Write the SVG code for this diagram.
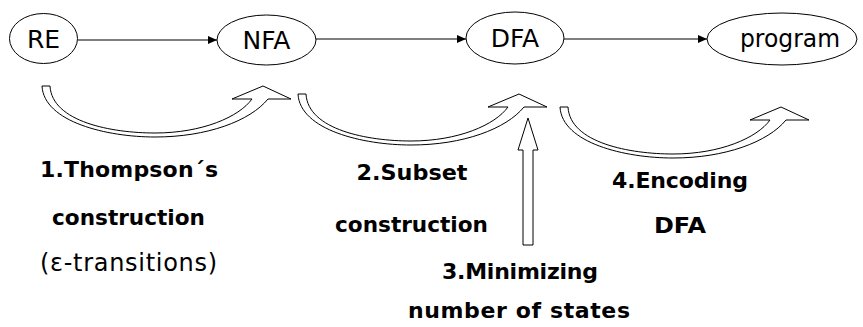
<svg xmlns="http://www.w3.org/2000/svg" xmlns:xlink="http://www.w3.org/1999/xlink" width="863" height="327" viewBox="0 0 863 327">
<style>
.node ellipse{fill:#fff;stroke:#000;stroke-width:1}
.node text{font-family:"DejaVu Sans","Liberation Sans",sans-serif;font-size:25px;fill:#000;text-anchor:middle}
.edge{stroke:#000;stroke-width:1.2;fill:none;marker-end:url(#ah)}
.block{fill:#fff;stroke:#000;stroke-width:1}
.lbl{font-family:"DejaVu Sans","Liberation Sans",sans-serif;font-size:22px;font-weight:bold;fill:#000;text-anchor:middle}
.lbln{font-family:"DejaVu Sans","Liberation Sans",sans-serif;font-size:24px;fill:#000;text-anchor:middle}
</style>
<defs>
<marker id="ah" markerWidth="10" markerHeight="8" refX="9" refY="4" orient="auto" markerUnits="userSpaceOnUse">
<path d="M0,0 L9,4 L0,8 Z" fill="#000"/>
</marker>
<path id="curved" d="M0,0 C2,36 65,51 113,51 C165,51 208,35 226,13 L249,13 L221,0 L190,13 L210,13 C197,31 160,47 113,47 C70,47 10,36 8,0 Z"/>
</defs>
<g id="connectors">
<line class="edge" x1="78" y1="40" x2="217" y2="40"/>
<line class="edge" x1="316" y1="39" x2="466" y2="39"/>
<line class="edge" x1="564" y1="39" x2="707" y2="39"/>
</g>
<g id="node-RE" class="node"><ellipse cx="43.5" cy="38.5" rx="34" ry="25"/><text x="43.5" y="47.5">RE</text></g>
<g id="node-NFA" class="node"><ellipse cx="266.5" cy="40" rx="49.5" ry="25"/><text x="266.5" y="48.5">NFA</text></g>
<g id="node-DFA" class="node"><ellipse cx="515" cy="38" rx="49" ry="26"/><text x="515" y="47">DFA</text></g>
<g id="node-program" class="node"><ellipse cx="782" cy="39" rx="75" ry="26"/><text x="790" y="47" textLength="100" lengthAdjust="spacingAndGlyphs">program</text></g>
<g id="steps">
<use xlink:href="#curved" class="block" transform="translate(42,86)"/>
<use xlink:href="#curved" class="block" transform="translate(298,94)"/>
<use xlink:href="#curved" class="block" transform="translate(560,107)"/>
<polygon class="block" points="523,245 523,150 518,150 528,118 538,150 533,150 533,245"/>
</g>
<g id="labels">
<text class="lbl" x="129" y="177" textLength="178" lengthAdjust="spacing">1.Thompson´s</text>
<text class="lbl" x="128.5" y="225" textLength="153" lengthAdjust="spacingAndGlyphs">construction</text>
<text class="lbln" x="128.5" y="271" textLength="177" lengthAdjust="spacing">(ε-transitions)</text>
<text class="lbl" x="412" y="180" textLength="111" lengthAdjust="spacingAndGlyphs">2.Subset</text>
<text class="lbl" x="411.5" y="232" textLength="153" lengthAdjust="spacingAndGlyphs">construction</text>
<text class="lbl" x="520" y="279" textLength="156" lengthAdjust="spacing">3.Minimizing</text>
<text class="lbl" x="519" y="318" textLength="222" lengthAdjust="spacing">number of states</text>
<text class="lbl" x="680" y="188" textLength="136" lengthAdjust="spacing">4.Encoding</text>
<text class="lbl" x="680" y="233" textLength="52" lengthAdjust="spacingAndGlyphs">DFA</text>
</g>
</svg>
